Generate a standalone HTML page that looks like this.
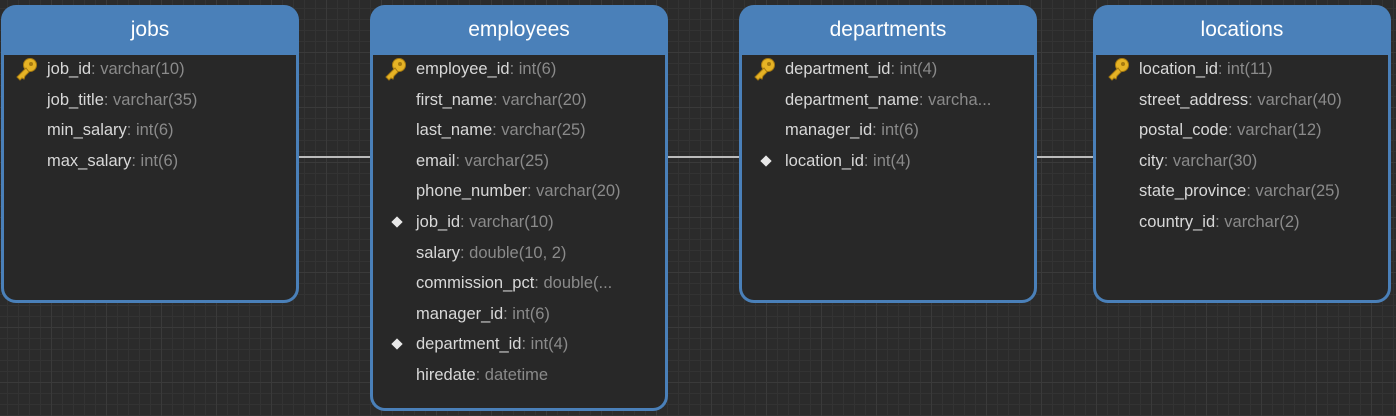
<!DOCTYPE html>
<html><head><meta charset="utf-8"><style>
html,body{margin:0;padding:0}
body{width:1396px;height:416px;overflow:hidden;position:relative;
background-color:#2b2b2b;
background-image:linear-gradient(#3a3a3a 1px,transparent 1px),linear-gradient(90deg,#3a3a3a 1px,transparent 1px),linear-gradient(#333 1px,transparent 1px),linear-gradient(90deg,#333 1px,transparent 1px);
background-size:55px 55px,55px 55px,11px 11px,11px 11px;background-position:-4px -3px;
font-family:"Liberation Sans","DejaVu Sans",sans-serif}
.t{position:absolute;background:#4a80b9;border-radius:15px;box-sizing:border-box}
.h{height:49px;line-height:50px;text-align:center;color:#fff;font-size:21px}
.b{position:absolute;left:3px;right:3px;top:50px;bottom:3px;background:#282828;border-radius:0 0 12px 12px;padding-top:0}
.r{height:30.6px;line-height:30px;font-size:16.5px;color:#d8d8d8;position:relative;padding-left:43px;white-space:nowrap;overflow:hidden;top:-1px}
.r span{color:#8a8a8a}
.k{position:absolute;left:10px;top:3px}
.d{position:absolute;left:20px;top:11px;width:8px;height:8px;background:#e8e8e8;transform:rotate(45deg)}
.l{position:absolute;height:2px;background:#bbb;top:156px}
</style></head><body>
<div class="l" style="left:299px;width:72px"></div>
<div class="l" style="left:667px;width:73px"></div>
<div class="l" style="left:1036px;width:58px"></div>
<svg width="0" height="0" style="position:absolute"><defs><g id="key"><circle cx="16" cy="8" r="6.5" fill="#e6b325" stroke="#a67a10" stroke-width="1"/><circle cx="17" cy="7" r="2" fill="#a67a10"/><path d="M12 11 L3 20 L6 23 L8 21 L10 22 L11 19 L15 15Z" fill="#e6b325" stroke="#a67a10" stroke-width="1"/></g></defs></svg>

<div class="t" style="left:1px;top:5px;width:298px;height:298px">
<div class="h">jobs</div><div class="b">
<div class="r"><svg class="k" width="26" height="26"><use href="#key"/></svg>job_id<span>: varchar(10)</span></div>
<div class="r">job_title<span>: varchar(35)</span></div>
<div class="r">min_salary<span>: int(6)</span></div>
<div class="r">max_salary<span>: int(6)</span></div>
</div></div>

<div class="t" style="left:370px;top:5px;width:298px;height:406px">
<div class="h">employees</div><div class="b">
<div class="r"><svg class="k" width="26" height="26"><use href="#key"/></svg>employee_id<span>: int(6)</span></div>
<div class="r">first_name<span>: varchar(20)</span></div>
<div class="r">last_name<span>: varchar(25)</span></div>
<div class="r">email<span>: varchar(25)</span></div>
<div class="r">phone_number<span>: varchar(20)</span></div>
<div class="r"><i class="d"></i>job_id<span>: varchar(10)</span></div>
<div class="r">salary<span>: double(10, 2)</span></div>
<div class="r">commission_pct<span>: double(...</span></div>
<div class="r">manager_id<span>: int(6)</span></div>
<div class="r"><i class="d"></i>department_id<span>: int(4)</span></div>
<div class="r">hiredate<span>: datetime</span></div>
</div></div>

<div class="t" style="left:739px;top:5px;width:298px;height:298px">
<div class="h">departments</div><div class="b">
<div class="r"><svg class="k" width="26" height="26"><use href="#key"/></svg>department_id<span>: int(4)</span></div>
<div class="r">department_name<span>: varcha...</span></div>
<div class="r">manager_id<span>: int(6)</span></div>
<div class="r"><i class="d"></i>location_id<span>: int(4)</span></div>
</div></div>

<div class="t" style="left:1093px;top:5px;width:298px;height:298px">
<div class="h">locations</div><div class="b">
<div class="r"><svg class="k" width="26" height="26"><use href="#key"/></svg>location_id<span>: int(11)</span></div>
<div class="r">street_address<span>: varchar(40)</span></div>
<div class="r">postal_code<span>: varchar(12)</span></div>
<div class="r">city<span>: varchar(30)</span></div>
<div class="r">state_province<span>: varchar(25)</span></div>
<div class="r">country_id<span>: varchar(2)</span></div>
</div></div>
</body></html>
